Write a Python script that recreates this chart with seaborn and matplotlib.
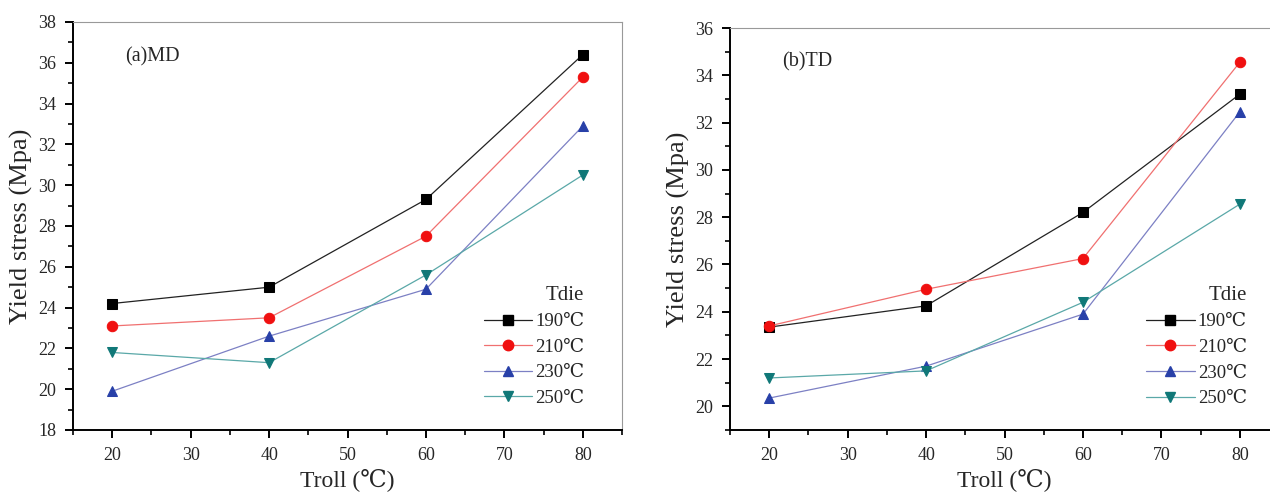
import numpy as np
import pandas as pd
import matplotlib
matplotlib.use("Agg")
import matplotlib.pyplot as plt
from matplotlib.ticker import MultipleLocator
import seaborn as sns

troll = [20, 40, 60, 80]
tdie_labels = ["190℃", "210℃", "230℃", "250℃"]
md_190 = [24.2, 25.0, 29.3, 36.4]
md_210 = [23.1, 23.5, 27.5, 35.3]
md_230 = [19.9, 22.6, 24.9, 32.9]
md_250 = [21.8, 21.3, 25.6, 30.5]
td_190 = [23.35, 24.25, 28.2, 33.2]
td_210 = [23.4, 24.95, 26.25, 34.55]
td_230 = [20.35, 21.7, 23.9, 32.45]
td_250 = [21.2, 21.5, 24.4, 28.55]

sns.set_theme(style="ticks")
plt.rcParams['font.family'] = ['Liberation Serif', 'DejaVu Serif', 'Noto Sans CJK SC']

line_colors = ["#222222", "#f07070", "#7c80c4", "#5aa8a8"]
marker_colors = ["#000000", "#f01010", "#2840a8", "#107878"]
markers = ["s", "o", "^", "v"]


def long_df(series):
    rows = []
    for lab, vals in zip(tdie_labels, series):
        for x, y in zip(troll, vals):
            rows.append({"Troll": x, "Yield": y, "Tdie": lab})
    return pd.DataFrame(rows)


fig = plt.figure(figsize=(12.7, 4.94), dpi=100)
ax1 = fig.add_axes([73/1270, 64/494, 549/1270, 408/494])
ax2 = fig.add_axes([730/1270, 64/494, 549/1270, 402/494])

panels = [
    (ax1, [md_190, md_210, md_230, md_250], (18, 38), "(a)MD", (0.962, 0.015)),
    (ax2, [td_190, td_210, td_230, td_250], (19, 36), "(b)TD", (0.972, 0.015)),
]

for ax, series, ylim, tag, legpos in panels:
    df = long_df(series)
    sns.lineplot(data=df, x="Troll", y="Yield", hue="Tdie", style="Tdie",
                 palette=dict(zip(tdie_labels, line_colors)),
                 markers=dict(zip(tdie_labels, markers)), dashes=False,
                 linewidth=0.9, markersize=7.5, legend=False, ax=ax)
    for ln, mc in zip(ax.get_lines(), marker_colors):
        ln.set_markerfacecolor(mc)
        ln.set_markeredgecolor(mc)
    ax.set_xlim(15, 85)
    ax.set_ylim(*ylim)
    ax.xaxis.set_major_locator(MultipleLocator(10))
    ax.xaxis.set_minor_locator(MultipleLocator(5))
    ax.yaxis.set_major_locator(MultipleLocator(2))
    ax.yaxis.set_minor_locator(MultipleLocator(1))
    ax.tick_params(axis="both", which="major", direction="out", length=6, width=1.4,
                   labelsize=13, color="black", pad=6)
    ax.tick_params(axis="both", which="minor", direction="out", length=3.5, width=1.2,
                   color="black")
    ax.tick_params(top=False, right=False)
    for s in ["left", "bottom"]:
        ax.spines[s].set_linewidth(1.4)
        ax.spines[s].set_color("black")
    for s in ["top", "right"]:
        ax.spines[s].set_linewidth(0.8)
        ax.spines[s].set_color("#999999")
    ax.set_xlabel("Troll (℃)", fontsize=17, labelpad=3)
    ax.set_ylabel("Yield stress (Mpa)", fontsize=19, labelpad=4)
    ax.text(0.095, 0.915, tag, transform=ax.transAxes, fontsize=14.5, va="center")
    handles = [plt.Line2D([], [], color=lc, marker=m, markerfacecolor=mc,
                          markeredgecolor=mc, markersize=7.5, linewidth=0.9)
               for lc, mc, m in zip(line_colors, marker_colors, markers)]
    ax.legend(handles, tdie_labels, title="Tdie", loc="lower right",
              bbox_to_anchor=legpos, frameon=False, fontsize=13.5,
              title_fontsize=15, handlelength=2.6, handletextpad=0.15,
              labelspacing=0.45, alignment="right")

fig.savefig("out.png", dpi=100)
